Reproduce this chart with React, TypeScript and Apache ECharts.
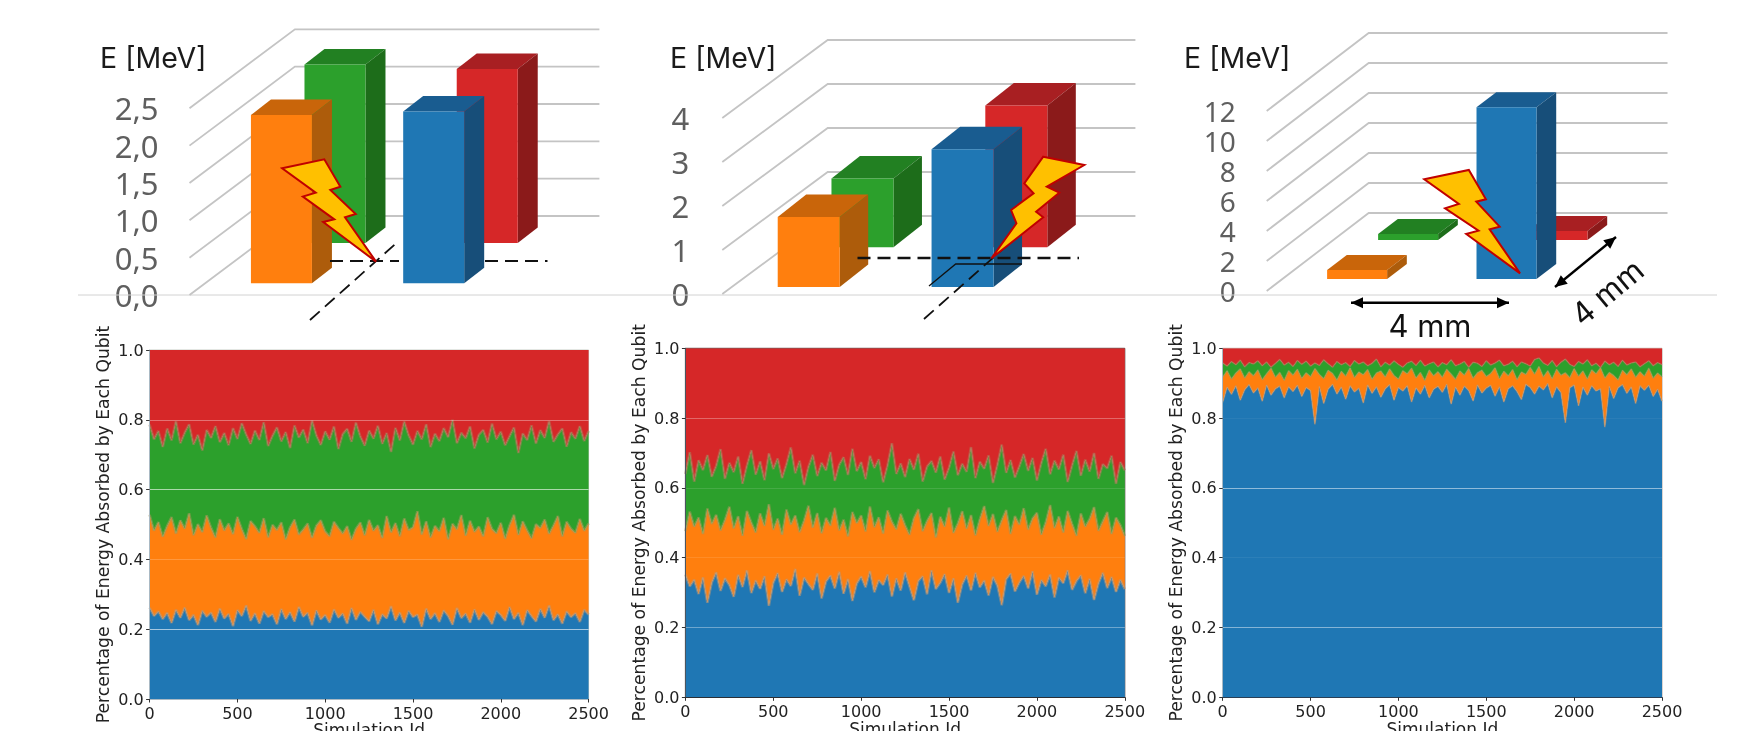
import React, { useEffect, useRef } from "react";
import * as echarts from "echarts";

// ---- top row: energy per qubit [MeV] ----
const energyOrange = [2.25, 1.59, 0.6];
const energyGreen = [2.39, 1.56, 0.4];
const energyBlue = [2.3, 3.13, 11.45];
const energyRed = [2.33, 3.22, 0.6];
const energyAxisMax = [2.5, 4, 12];
const energyAxisStep = [0.5, 1, 2];
const qubitColumnMm = [0, 4];

// ---- bottom row: cumulative share (per mille) at the top of blue, orange, green ----
const p1Blue = [262,238,251,229,247,218,256,233,262,226,241,212,253,236,248,221,259,231,244,209,255,238,268,224,246,216,252,235,243,214,258,229,249,222,264,236,247,211,254,228,241,219,257,233,245,216,261,227,250,236,223,256,214,243,231,266,225,248,218,253,235,242,207,259,229,246,221,254,238,213,261,232,245,219,257,227,249,236,215,252,241,224,264,229,247,212,255,238,222,258,233,268,226,243,216,251,235,246,221,256,242];
const p1Orange = [528,482,507,465,496,521,474,512,488,532,469,501,478,526,491,463,515,483,503,472,522,487,458,510,495,476,518,463,499,484,506,457,492,514,471,486,503,462,497,512,480,466,508,490,474,495,456,488,506,469,513,482,498,461,524,477,504,466,517,484,492,538,471,509,463,496,481,519,457,502,486,527,468,511,479,494,466,521,487,475,505,459,498,528,470,509,483,460,501,490,514,473,497,524,466,508,488,476,516,482,503];
const p1Green = [786,744,768,722,775,741,796,733,763,787,729,757,712,771,748,782,736,762,727,776,745,790,758,731,769,742,793,725,754,778,738,765,719,784,749,772,733,798,755,728,767,743,781,716,759,774,737,792,752,726,769,746,783,731,762,708,777,741,795,756,729,768,744,787,722,760,739,776,750,800,733,763,747,781,718,757,771,735,789,744,766,727,753,778,705,761,742,784,732,770,748,796,737,758,775,723,764,746,782,739,768];

const p2Blue = [352,318,337,296,344,271,329,358,305,341,322,288,351,316,364,299,335,311,347,262,328,356,302,338,319,368,291,343,325,308,355,283,332,349,312,360,297,339,276,326,346,315,362,301,336,322,352,289,341,306,358,318,278,333,347,295,364,310,328,353,299,341,271,324,349,306,357,315,335,292,345,320,264,338,355,303,329,348,312,361,294,336,318,352,286,343,327,364,308,333,350,298,340,279,326,357,313,345,302,337,310];
const p2Orange = [476,532,489,515,468,541,497,523,478,508,546,484,519,463,534,501,472,527,491,553,480,512,466,538,495,521,473,506,549,486,528,470,514,492,543,478,509,461,531,499,521,475,547,487,516,469,535,503,481,526,493,466,513,539,476,505,528,458,517,489,544,471,498,533,483,522,464,510,548,491,525,474,507,537,468,519,495,542,480,512,529,466,501,551,485,518,472,534,497,463,527,489,511,545,477,504,531,468,515,493,462];
const p2Green = [640,702,618,679,651,694,632,663,711,626,672,645,690,612,664,708,638,676,622,699,654,684,628,668,716,642,678,608,660,695,634,672,650,703,620,666,688,637,712,648,674,625,692,657,682,616,665,728,640,670,631,683,652,698,618,661,677,644,690,624,658,704,636,669,646,717,628,675,655,693,614,666,724,643,680,630,662,697,649,686,621,671,712,639,678,653,695,617,664,706,635,681,647,700,626,668,656,692,612,674,650];

const p3Blue = [845,889,868,893,851,881,896,872,887,848,895,866,884,892,858,890,876,894,862,888,879,782,891,842,883,897,869,889,854,893,875,886,843,895,871,890,860,884,896,851,888,878,893,846,887,869,894,858,883,891,874,897,840,889,866,892,879,849,895,872,886,894,863,890,846,884,893,876,853,897,888,869,892,881,899,858,890,873,786,887,895,835,889,866,893,878,884,774,891,856,887,896,871,889,842,893,880,894,862,883,848];
const p3Orange = [918,936,912,929,941,915,933,921,938,910,927,943,917,931,908,936,923,940,914,930,919,942,925,913,937,928,909,934,920,944,916,932,924,939,911,929,935,918,941,922,912,936,927,943,915,931,908,938,921,933,917,940,926,911,935,923,942,914,930,937,919,928,944,913,934,921,939,910,932,925,945,926,948,918,936,913,940,923,930,916,942,920,935,912,938,927,944,915,931,922,909,937,924,941,917,933,920,943,914,929,918];
const p3Green = [958,949,962,953,966,947,959,955,964,950,961,946,957,968,952,960,948,965,954,963,949,958,951,967,956,946,962,953,959,948,965,955,961,950,957,969,947,960,952,964,954,946,958,963,951,966,949,956,961,947,959,953,967,950,955,962,946,960,957,948,964,952,958,966,950,954,963,947,961,956,949,968,972,958,951,965,947,960,969,954,948,962,955,967,950,957,945,963,953,960,948,966,952,958,961,947,956,964,950,959,953];

const gridTicks = [0.2, 0.4, 0.6, 0.8];
const gridTickAlpha = [
  [0.6, 0.2, 0.6, 0.35],
  [0.35, 0.1, 0.12, 0.3],
  [0.45, 0.06, 0.5, 0.05],
];

const AXIS_NAME = "Percentage of Energy Absorbed by Each Qubit";
const X_NAME = "Simulation Id";
const ENERGY_TITLE = "E [MeV]";
const DIM_LABEL = "4 mm";

// ---- layout (pixels) ----
const topLayout = [
  { left: 189.5, right: 494, top: 108.3, bottom: 295, wallDx: 105.4, wallDy: 79, barPx: 61, barDx: 20, barDy: 15.5, rows: [0.15, 0.658], margin: 31, font: 31 },
  { left: 722.3, right: 1030, top: 118, bottom: 294, wallDx: 105.4, wallDy: 78, barPx: 62, barDx: 28.5, barDy: 22.5, rows: [0.09, 0.6], margin: 33, font: 31 },
  { left: 1266.7, right: 1565.5, top: 111, bottom: 291, wallDx: 102, wallDy: 78, barPx: 60, barDx: 19.7, barDy: 15, rows: [0.154, 0.654], margin: 31, font: 28 },
];
const bottomLayout = [
  { left: 149.6, right: 588.6, top: 350, bottom: 699, border: "#c6ccc4", axis: "#a9b9c4" },
  { left: 685.4, right: 1124.8, top: 348.3, bottom: 697.3, border: "#4a3a3a", axis: "#2a2f36" },
  { left: 1222.7, right: 1662, top: 348.3, bottom: 697.3, border: "#b8a8a0", axis: "#2a3f55" },
];
const barPalette = {
  orange: { front: "#ff7f0e", top: "#c9650a", side: "#ad5c0b" },
  green: { front: "#2ca02c", top: "#228022", side: "#1d6d1a" },
  blue: { front: "#1f77b4", top: "#195c90", side: "#174e79" },
  red: { front: "#d62728", top: "#a81f22", side: "#8b1a1a" },
};
const sans = "'Noto Sans', Roboto, sans-serif";
const dejavu = "'DejaVu Sans', sans-serif";
const titleFont = "Inter, 'Noto Sans', sans-serif";

function zp(ox: number, oy: number, kx: number, pts: number[][]) {
  return pts.map(([x, y]) => [ox + x / kx, oy + y / 3]);
}

const bolts = [
  zp(60, 10, 2.8, [[622,475],[740,448],[785,530],[757,540],[828,612],[798,622],[885,755],[737,636],[768,628],[680,560],[716,548]]),
  zp(620, 10, 2.8, [[1185,440],[1300,465],[1195,530],[1230,548],[1165,605],[1185,622],[1040,745],[1110,640],[1095,600],[1158,550],[1132,520]]),
  zp(1160, 10, 2.694, [[712,508],[832,480],[878,568],[852,575],[915,650],[888,658],[970,790],[825,672],[858,662],[768,595],[805,582]]),
];

function dash(x1: number, y1: number, x2: number, y2: number, lineWidth = 1.8) {
  return { type: "line", z: 60, silent: true, shape: { x1, y1, x2, y2 }, style: { stroke: "#111", lineWidth, lineDash: [13, 7] } };
}

function arrow(x1: number, y1: number, x2: number, y2: number) {
  const a = Math.atan2(y2 - y1, x2 - x1);
  const head = (x: number, y: number, t: number) => ({
    type: "polygon", z: 60, silent: true,
    shape: { points: [
      [x, y],
      [x - 12 * Math.cos(t) + 5.5 * Math.sin(t), y - 12 * Math.sin(t) - 5.5 * Math.cos(t)],
      [x - 12 * Math.cos(t) - 5.5 * Math.sin(t), y - 12 * Math.sin(t) + 5.5 * Math.cos(t)],
    ] },
    style: { fill: "#000" },
  });
  return [
    { type: "line", z: 60, silent: true, shape: { x1, y1, x2, y2 }, style: { stroke: "#000", lineWidth: 2.4 } },
    head(x2, y2, a),
    head(x1, y1, a + Math.PI),
  ];
}

function buildOption() {
  const grids: any[] = [];
  const xAxes: any[] = [];
  const yAxes: any[] = [];
  const series: any[] = [];

  topLayout.forEach((L, i) => {
    grids.push({ left: L.left, top: L.top, width: L.right - L.left, height: L.bottom - L.top, outerBoundsMode: "none" });
    xAxes.push({ type: "value", gridIndex: i, min: -2, max: 6, show: false });
    yAxes.push({
      type: "value", gridIndex: i, min: 0, max: energyAxisMax[i], interval: energyAxisStep[i],
      axisLine: { show: false }, axisTick: { show: false }, splitLine: { show: false },
      axisLabel: {
        margin: L.margin, fontFamily: sans, fontSize: L.font, lineHeight: 24, color: "#5f5f5f",
        formatter: (v: number) => (i === 0 ? v.toFixed(1).replace(".", ",") : String(v)),
      },
    });
    const ticks: number[] = [];
    for (let v = 0; v <= energyAxisMax[i] + 1e-9; v += energyAxisStep[i]) ticks.push(v);
    series.push({
      type: "custom", xAxisIndex: i, yAxisIndex: i, clip: false, silent: true, z: 2,
      data: ticks.map((v) => [0, v]),
      encode: { x: 0, y: 1 },
      renderItem: (_p: any, api: any) => {
        const v = api.value(1);
        const a = api.coord([-2, v]);
        const b = api.coord([6, v]);
        return {
          type: "polyline",
          shape: { points: [[a[0], a[1]], [a[0] + L.wallDx, a[1] - L.wallDy], [b[0] + L.wallDx, b[1] - L.wallDy]] },
          style: { stroke: "#c4c4c4", lineWidth: 1.8, fill: "none" },
        };
      },
    });
    const bars = [
      { col: 0, row: 1, e: energyGreen[i], c: barPalette.green },
      { col: 1, row: 1, e: energyRed[i], c: barPalette.red },
      { col: 0, row: 0, e: energyOrange[i], c: barPalette.orange },
      { col: 1, row: 0, e: energyBlue[i], c: barPalette.blue },
    ];
    series.push({
      type: "custom", xAxisIndex: i, yAxisIndex: i, clip: false, silent: true, z: 3,
      data: bars.map((b) => [qubitColumnMm[b.col], b.e, b.row]),
      encode: { x: 0, y: 1 },
      renderItem: (p: any, api: any) => {
        const b = bars[p.dataIndex];
        const base = api.coord([api.value(0), 0]);
        const top = api.coord([api.value(0), api.value(1)]);
        const z = L.rows[api.value(2)];
        const x0 = base[0] - L.barPx / 2 + z * L.wallDx;
        const x1 = x0 + L.barPx;
        const yB = base[1] - z * L.wallDy;
        const yT = top[1] - z * L.wallDy;
        const dx = L.barDx, dy = L.barDy;
        return {
          type: "group",
          children: [
            { type: "polygon", shape: { points: [[x0, yT], [x0 + dx, yT - dy], [x1 + dx, yT - dy], [x1, yT]] }, style: { fill: b.c.top } },
            { type: "polygon", shape: { points: [[x1, yT], [x1 + dx, yT - dy], [x1 + dx, yB - dy], [x1, yB]] }, style: { fill: b.c.side } },
            { type: "rect", shape: { x: x0, y: yT, width: L.barPx, height: yB - yT }, style: { fill: b.c.front } },
          ],
        };
      },
    });
  });

  const panels = [
    [p1Blue, p1Orange, p1Green],
    [p2Blue, p2Orange, p2Green],
    [p3Blue, p3Orange, p3Green],
  ];
  const names = ["Qubit 1", "Qubit 2", "Qubit 3", "Qubit 4"];
  const colors = ["#1f77b4", "#ff7f0e", "#2ca02c", "#d62728"];
  const fuzz = ["rgba(185,150,115,0.55)", "rgba(165,150,85,0.55)", "rgba(170,125,90,0.55)", "rgba(0,0,0,0)"];

  bottomLayout.forEach((L, k) => {
    const idx = k + 3;
    const [b, o, g] = panels[k];
    const n = b.length;
    const ids = b.map((_, j) => String((j * 2500) / (n - 1)));
    const labelEvery = (n - 1) / 5 - 1;
    grids.push({
      left: L.left, top: L.top, width: L.right - L.left, height: L.bottom - L.top, outerBoundsMode: "none",
      show: true, borderColor: L.border, borderWidth: 1, backgroundColor: "transparent",
    });
    xAxes.push({
      type: "category", gridIndex: idx, data: ids, boundaryGap: false,
      name: X_NAME, nameLocation: "middle", nameGap: 22,
      nameTextStyle: { fontFamily: dejavu, fontSize: 17, color: "#222" },
      axisLine: { show: true, onZero: false, lineStyle: { color: L.axis, width: 1.2 } },
      axisTick: { show: true, length: 3.5, interval: labelEvery, lineStyle: { color: "#333" } },
      axisLabel: { fontFamily: dejavu, fontSize: 16, color: "#222", margin: 6, interval: labelEvery },
      splitLine: { show: false }, z: 6,
    });
    yAxes.push({
      type: "value", gridIndex: idx, min: 0, max: 1, interval: 0.2,
      name: AXIS_NAME, nameLocation: "middle", nameGap: 38,
      nameTextStyle: { fontFamily: dejavu, fontSize: 17.2, color: "#222" },
      axisLine: { show: true, onZero: false, lineStyle: { color: L.axis === "#2a2f36" ? "#4a5560" : "#a9b9c4", width: 1 } },
      axisTick: { show: true, length: 3.5, lineStyle: { color: "#333" } },
      axisLabel: { fontFamily: dejavu, fontSize: 16, color: "#222", margin: 6, formatter: (v: number) => v.toFixed(1) },
      splitLine: { show: false }, z: 6,
    });
    const shares = [
      b.map((v) => v / 1000),
      o.map((v, j) => (v - b[j]) / 1000),
      g.map((v, j) => (v - o[j]) / 1000),
      g.map((v) => (1000 - v) / 1000),
    ];
    shares.forEach((vals, s) => {
      series.push({
        type: "line", name: names[s], xAxisIndex: idx, yAxisIndex: idx, stack: "p" + k,
        data: vals,
        showSymbol: false, silent: true, z: 4,
        lineStyle: { color: fuzz[s], width: s === 3 ? 0 : k === 2 ? 1.6 : 2.6 },
        areaStyle: { color: colors[s], opacity: 1 },
        ...(s === 3
          ? {
              markLine: {
                silent: true, symbol: "none", label: { show: false }, z: 5, animation: false,
                data: gridTicks.map((t, q) => ({
                  yAxis: t,
                  lineStyle: { color: `rgba(255,255,255,${gridTickAlpha[k][q]})`, width: 1.2, type: "solid" },
                })),
              },
            }
          : {}),
      });
    });
  });

  const titleX = [100, 670, 1184];
  const graphic: any[] = [
    { type: "line", z: 1, silent: true, shape: { x1: 78, y1: 295, x2: 1717, y2: 295 }, style: { stroke: "#d2d2d2", lineWidth: 1 } },
    ...titleX.map((x) => ({
      type: "text", z: 60, silent: true, x, y: 57,
      style: { text: ENERGY_TITLE, fontFamily: titleFont, fontSize: 28.5, fill: "#1a1a1a", textVerticalAlign: "middle", textAlign: "left" },
    })),
    // panel 1 beam marks
    dash(330, 261, 399, 261), dash(485, 261, 547.5, 261), dash(310, 320, 397.5, 242),
    // panel 2 beam marks
    dash(857.5, 258, 1079, 258, 2.3), dash(924, 319, 1038, 218),
    { type: "polyline", z: 60, silent: true, shape: { points: [[929, 286], [955.7, 264], [1021.8, 264]] }, style: { stroke: "#111", lineWidth: 1.3, fill: "none" } },
    ...bolts.map((points) => ({
      type: "polygon", z: 70, silent: true, shape: { points },
      style: { fill: "#ffc000", stroke: "#c00000", lineWidth: 2, lineJoin: "miter" },
    })),
    ...arrow(1351, 302.7, 1509, 302.7),
    ...arrow(1555, 287, 1616, 237),
    {
      type: "text", z: 60, silent: true, x: 1430, y: 325,
      style: { text: DIM_LABEL, fontFamily: titleFont, fontSize: 31, fill: "#111", textAlign: "center", textVerticalAlign: "middle" },
    },
    {
      type: "text", z: 60, silent: true, x: 1607, y: 292, rotation: (40 * Math.PI) / 180,
      style: { text: DIM_LABEL, fontFamily: titleFont, fontSize: 31, fill: "#111", textAlign: "center", textVerticalAlign: "middle" },
    },
  ];

  return { animation: false, backgroundColor: "#ffffff", grid: grids, xAxis: xAxes, yAxis: yAxes, series, graphic };
}

export default function App() {
  const ref = useRef<HTMLDivElement | null>(null);
  useEffect(() => {
    document.body.style.margin = "0";
    const chart = echarts.init(ref.current as HTMLDivElement, undefined, { renderer: "svg" });
    chart.setOption(buildOption() as any);
    return () => chart.dispose();
  }, []);
  return <div ref={ref} style={{ width: 1742, height: 731, overflow: "hidden", filter: "blur(0.6px)" }} />;
}
